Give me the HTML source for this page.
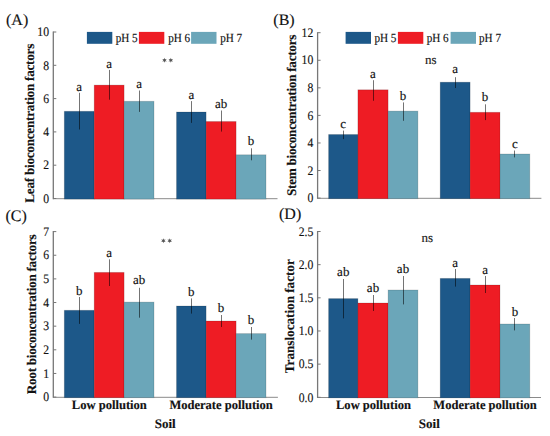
<!DOCTYPE html>
<html><head><meta charset="utf-8"><style>
html,body{margin:0;padding:0;background:#fff;}
svg{display:block;font-family:"Liberation Serif",serif;text-rendering:geometricPrecision;}
text{stroke:#111;stroke-width:0.15px;}
</style></head><body>
<svg width="550" height="436" viewBox="0 0 550 436">
<rect width="550" height="436" fill="#fff"/>
<line x1="53.3" y1="198.7" x2="277.5" y2="198.7" stroke="#8a8a8a" stroke-width="1"/>
<rect x="64.3" y="111.3" width="29.90" height="87.80" fill="#1d5889" stroke="#000" stroke-opacity="0.16" stroke-width="0.9"/>
<rect x="94.2" y="85.1" width="29.90" height="114.00" fill="#ee1c24" stroke="#000" stroke-opacity="0.16" stroke-width="0.9"/>
<rect x="124.1" y="101.3" width="29.90" height="97.80" fill="#6ba6b9" stroke="#000" stroke-opacity="0.16" stroke-width="0.9"/>
<rect x="176.5" y="112.0" width="29.60" height="87.10" fill="#1d5889" stroke="#000" stroke-opacity="0.16" stroke-width="0.9"/>
<rect x="206.1" y="121.5" width="30.00" height="77.60" fill="#ee1c24" stroke="#000" stroke-opacity="0.16" stroke-width="0.9"/>
<rect x="236.1" y="154.8" width="29.90" height="44.30" fill="#6ba6b9" stroke="#000" stroke-opacity="0.16" stroke-width="0.9"/>
<line x1="79.5" y1="92.8" x2="79.5" y2="129.5" stroke="#000" stroke-width="0.55"/>
<text x="79.25" y="91.0" font-size="13" text-anchor="middle" font-weight="normal" fill="#111" >a</text>
<line x1="109.5" y1="69.9" x2="109.5" y2="99.7" stroke="#000" stroke-width="0.55"/>
<text x="109.15" y="67.6" font-size="13" text-anchor="middle" font-weight="normal" fill="#111" >a</text>
<line x1="139.5" y1="90.5" x2="139.5" y2="111.9" stroke="#000" stroke-width="0.55"/>
<text x="139.05" y="88.3" font-size="13" text-anchor="middle" font-weight="normal" fill="#111" >a</text>
<line x1="191.5" y1="101.1" x2="191.5" y2="122.9" stroke="#000" stroke-width="0.55"/>
<text x="191.3" y="98.9" font-size="13" text-anchor="middle" font-weight="normal" fill="#111" >a</text>
<line x1="221.5" y1="110.5" x2="221.5" y2="131.6" stroke="#000" stroke-width="0.55"/>
<text x="221.1" y="107.6" font-size="13" text-anchor="middle" font-weight="normal" fill="#111" >ab</text>
<line x1="251.5" y1="148.3" x2="251.5" y2="160.3" stroke="#000" stroke-width="0.55"/>
<text x="251.05" y="144.7" font-size="13" text-anchor="middle" font-weight="normal" fill="#111" >b</text>
<line x1="53.3" y1="31.5" x2="53.3" y2="199.2" stroke="#777777" stroke-width="1.3"/>
<line x1="53.3" y1="198.50" x2="56.30" y2="198.50" stroke="#777777" stroke-width="1"/>
<text transform="translate(49.00,202.70) scale(0.9,1)" font-size="13" text-anchor="end" fill="#111">0</text>
<line x1="53.3" y1="165.20" x2="56.30" y2="165.20" stroke="#777777" stroke-width="1"/>
<text transform="translate(49.00,169.40) scale(0.9,1)" font-size="13" text-anchor="end" fill="#111">2</text>
<line x1="53.3" y1="131.90" x2="56.30" y2="131.90" stroke="#777777" stroke-width="1"/>
<text transform="translate(49.00,136.10) scale(0.9,1)" font-size="13" text-anchor="end" fill="#111">4</text>
<line x1="53.3" y1="98.60" x2="56.30" y2="98.60" stroke="#777777" stroke-width="1"/>
<text transform="translate(49.00,102.80) scale(0.9,1)" font-size="13" text-anchor="end" fill="#111">6</text>
<line x1="53.3" y1="65.30" x2="56.30" y2="65.30" stroke="#777777" stroke-width="1"/>
<text transform="translate(49.00,69.50) scale(0.9,1)" font-size="13" text-anchor="end" fill="#111">8</text>
<line x1="53.3" y1="32.00" x2="56.30" y2="32.00" stroke="#777777" stroke-width="1"/>
<text transform="translate(49.00,36.20) scale(0.9,1)" font-size="13" text-anchor="end" fill="#111">10</text>
<text transform="translate(34.4,123.2) rotate(-90)" font-size="13.2" font-weight="bold" text-anchor="middle" fill="#111" textLength="159.0" lengthAdjust="spacing">Leaf bioconcentration factors</text>
<rect x="86.9" y="31.9" width="25.4" height="11.9" fill="#1d5889"/>
<text x="115.7" y="41.8" font-size="12.4" text-anchor="start" font-weight="normal" fill="#111" textLength="22" lengthAdjust="spacingAndGlyphs">pH 5</text>
<rect x="138.9" y="31.9" width="25.4" height="11.9" fill="#ee1c24"/>
<text x="168.2" y="41.8" font-size="12.4" text-anchor="start" font-weight="normal" fill="#111" textLength="22" lengthAdjust="spacingAndGlyphs">pH 6</text>
<rect x="191.1" y="31.9" width="25.4" height="11.9" fill="#6ba6b9"/>
<text x="220.2" y="41.8" font-size="12.4" text-anchor="start" font-weight="normal" fill="#111" textLength="22" lengthAdjust="spacingAndGlyphs">pH 7</text>
<polygon points="164.50,57.65 163.95,59.30 162.25,58.95 163.40,60.25 162.25,61.55 163.95,61.20 164.50,62.85 165.05,61.20 166.75,61.55 165.60,60.25 166.75,58.95 165.05,59.30" fill="#555"/>
<polygon points="170.80,57.65 170.25,59.30 168.55,58.95 169.70,60.25 168.55,61.55 170.25,61.20 170.80,62.85 171.35,61.20 173.05,61.55 171.90,60.25 173.05,58.95 171.35,59.30" fill="#555"/>
<line x1="317.6" y1="198.3" x2="541.4" y2="198.3" stroke="#8a8a8a" stroke-width="1"/>
<rect x="328.6" y="134.5" width="29.30" height="64.20" fill="#1d5889" stroke="#000" stroke-opacity="0.16" stroke-width="0.9"/>
<rect x="357.9" y="89.8" width="30.20" height="108.90" fill="#ee1c24" stroke="#000" stroke-opacity="0.16" stroke-width="0.9"/>
<rect x="388.1" y="111.1" width="29.80" height="87.60" fill="#6ba6b9" stroke="#000" stroke-opacity="0.16" stroke-width="0.9"/>
<rect x="440.2" y="82.2" width="29.90" height="116.50" fill="#1d5889" stroke="#000" stroke-opacity="0.16" stroke-width="0.9"/>
<rect x="470.1" y="112.3" width="29.90" height="86.40" fill="#ee1c24" stroke="#000" stroke-opacity="0.16" stroke-width="0.9"/>
<rect x="500.0" y="154.0" width="29.80" height="44.70" fill="#6ba6b9" stroke="#000" stroke-opacity="0.16" stroke-width="0.9"/>
<line x1="343.5" y1="130.6" x2="343.5" y2="139.1" stroke="#000" stroke-width="0.55"/>
<text x="343.25" y="128.1" font-size="13" text-anchor="middle" font-weight="normal" fill="#111" >c</text>
<line x1="373.5" y1="80.2" x2="373.5" y2="100.8" stroke="#000" stroke-width="0.55"/>
<text x="373.0" y="77.9" font-size="13" text-anchor="middle" font-weight="normal" fill="#111" >a</text>
<line x1="403.5" y1="102.4" x2="403.5" y2="120.8" stroke="#000" stroke-width="0.55"/>
<text x="403.0" y="100.1" font-size="13" text-anchor="middle" font-weight="normal" fill="#111" >b</text>
<line x1="455.5" y1="77.2" x2="455.5" y2="88.0" stroke="#000" stroke-width="0.55"/>
<text x="455.15" y="73.3" font-size="13" text-anchor="middle" font-weight="normal" fill="#111" >a</text>
<line x1="485.5" y1="104.3" x2="485.5" y2="120.1" stroke="#000" stroke-width="0.55"/>
<text x="485.05" y="101.3" font-size="13" text-anchor="middle" font-weight="normal" fill="#111" >b</text>
<line x1="514.5" y1="150.5" x2="514.5" y2="157.4" stroke="#000" stroke-width="0.55"/>
<text x="514.9" y="147.5" font-size="13" text-anchor="middle" font-weight="normal" fill="#111" >c</text>
<line x1="317.6" y1="32.2" x2="317.6" y2="198.8" stroke="#777777" stroke-width="1.3"/>
<line x1="317.6" y1="198.10" x2="320.60" y2="198.10" stroke="#777777" stroke-width="1"/>
<text transform="translate(313.30,202.30) scale(0.9,1)" font-size="13" text-anchor="end" fill="#111">0</text>
<line x1="317.6" y1="170.53" x2="320.60" y2="170.53" stroke="#777777" stroke-width="1"/>
<text transform="translate(313.30,174.73) scale(0.9,1)" font-size="13" text-anchor="end" fill="#111">2</text>
<line x1="317.6" y1="142.97" x2="320.60" y2="142.97" stroke="#777777" stroke-width="1"/>
<text transform="translate(313.30,147.17) scale(0.9,1)" font-size="13" text-anchor="end" fill="#111">4</text>
<line x1="317.6" y1="115.40" x2="320.60" y2="115.40" stroke="#777777" stroke-width="1"/>
<text transform="translate(313.30,119.60) scale(0.9,1)" font-size="13" text-anchor="end" fill="#111">6</text>
<line x1="317.6" y1="87.83" x2="320.60" y2="87.83" stroke="#777777" stroke-width="1"/>
<text transform="translate(313.30,92.03) scale(0.9,1)" font-size="13" text-anchor="end" fill="#111">8</text>
<line x1="317.6" y1="60.27" x2="320.60" y2="60.27" stroke="#777777" stroke-width="1"/>
<text transform="translate(313.30,64.47) scale(0.9,1)" font-size="13" text-anchor="end" fill="#111">10</text>
<line x1="317.6" y1="32.70" x2="320.60" y2="32.70" stroke="#777777" stroke-width="1"/>
<text transform="translate(313.30,36.90) scale(0.9,1)" font-size="13" text-anchor="end" fill="#111">12</text>
<text transform="translate(295.5,115.3) rotate(-90)" font-size="13.2" font-weight="bold" text-anchor="middle" fill="#111" textLength="161.4" lengthAdjust="spacing">Stem bioconcentration factors</text>
<rect x="345.6" y="31.9" width="25.4" height="11.9" fill="#1d5889"/>
<text x="374.4" y="41.8" font-size="12.4" text-anchor="start" font-weight="normal" fill="#111" textLength="22" lengthAdjust="spacingAndGlyphs">pH 5</text>
<rect x="397.9" y="31.9" width="25.4" height="11.9" fill="#ee1c24"/>
<text x="426.7" y="41.8" font-size="12.4" text-anchor="start" font-weight="normal" fill="#111" textLength="22" lengthAdjust="spacingAndGlyphs">pH 6</text>
<rect x="450.6" y="31.9" width="25.4" height="11.9" fill="#6ba6b9"/>
<text x="479.0" y="41.8" font-size="12.4" text-anchor="start" font-weight="normal" fill="#111" textLength="22" lengthAdjust="spacingAndGlyphs">pH 7</text>
<text x="430.7" y="63.8" font-size="13" text-anchor="middle" font-weight="normal" fill="#222" >ns</text>
<line x1="53.3" y1="397.3" x2="277.9" y2="397.3" stroke="#8a8a8a" stroke-width="1"/>
<rect x="64.3" y="310.3" width="29.90" height="87.40" fill="#1d5889" stroke="#000" stroke-opacity="0.16" stroke-width="0.9"/>
<rect x="94.2" y="272.4" width="29.90" height="125.30" fill="#ee1c24" stroke="#000" stroke-opacity="0.16" stroke-width="0.9"/>
<rect x="124.1" y="302.1" width="29.90" height="95.60" fill="#6ba6b9" stroke="#000" stroke-opacity="0.16" stroke-width="0.9"/>
<rect x="176.5" y="306.0" width="29.60" height="91.70" fill="#1d5889" stroke="#000" stroke-opacity="0.16" stroke-width="0.9"/>
<rect x="206.1" y="321.0" width="30.00" height="76.70" fill="#ee1c24" stroke="#000" stroke-opacity="0.16" stroke-width="0.9"/>
<rect x="236.1" y="333.6" width="29.90" height="64.10" fill="#6ba6b9" stroke="#000" stroke-opacity="0.16" stroke-width="0.9"/>
<line x1="79.5" y1="297.0" x2="79.5" y2="323.9" stroke="#000" stroke-width="0.55"/>
<text x="79.25" y="294.7" font-size="13" text-anchor="middle" font-weight="normal" fill="#111" >b</text>
<line x1="109.5" y1="259.3" x2="109.5" y2="286.0" stroke="#000" stroke-width="0.55"/>
<text x="109.15" y="256.8" font-size="13" text-anchor="middle" font-weight="normal" fill="#111" >a</text>
<line x1="139.5" y1="287.8" x2="139.5" y2="317.7" stroke="#000" stroke-width="0.55"/>
<text x="139.05" y="284.4" font-size="13" text-anchor="middle" font-weight="normal" fill="#111" >ab</text>
<line x1="191.5" y1="298.4" x2="191.5" y2="313.6" stroke="#000" stroke-width="0.55"/>
<text x="191.3" y="295.6" font-size="13" text-anchor="middle" font-weight="normal" fill="#111" >b</text>
<line x1="221.5" y1="315.0" x2="221.5" y2="327.0" stroke="#000" stroke-width="0.55"/>
<text x="221.1" y="312.0" font-size="13" text-anchor="middle" font-weight="normal" fill="#111" >b</text>
<line x1="251.5" y1="327.0" x2="251.5" y2="339.6" stroke="#000" stroke-width="0.55"/>
<text x="251.05" y="324.4" font-size="13" text-anchor="middle" font-weight="normal" fill="#111" >b</text>
<line x1="53.3" y1="231.1" x2="53.3" y2="397.8" stroke="#777777" stroke-width="1.3"/>
<line x1="53.3" y1="397.10" x2="56.30" y2="397.10" stroke="#777777" stroke-width="1"/>
<text transform="translate(49.00,401.30) scale(0.9,1)" font-size="13" text-anchor="end" fill="#111">0</text>
<line x1="53.3" y1="373.46" x2="56.30" y2="373.46" stroke="#777777" stroke-width="1"/>
<text transform="translate(49.00,377.66) scale(0.9,1)" font-size="13" text-anchor="end" fill="#111">1</text>
<line x1="53.3" y1="349.81" x2="56.30" y2="349.81" stroke="#777777" stroke-width="1"/>
<text transform="translate(49.00,354.01) scale(0.9,1)" font-size="13" text-anchor="end" fill="#111">2</text>
<line x1="53.3" y1="326.17" x2="56.30" y2="326.17" stroke="#777777" stroke-width="1"/>
<text transform="translate(49.00,330.37) scale(0.9,1)" font-size="13" text-anchor="end" fill="#111">3</text>
<line x1="53.3" y1="302.53" x2="56.30" y2="302.53" stroke="#777777" stroke-width="1"/>
<text transform="translate(49.00,306.73) scale(0.9,1)" font-size="13" text-anchor="end" fill="#111">4</text>
<line x1="53.3" y1="278.89" x2="56.30" y2="278.89" stroke="#777777" stroke-width="1"/>
<text transform="translate(49.00,283.09) scale(0.9,1)" font-size="13" text-anchor="end" fill="#111">5</text>
<line x1="53.3" y1="255.24" x2="56.30" y2="255.24" stroke="#777777" stroke-width="1"/>
<text transform="translate(49.00,259.44) scale(0.9,1)" font-size="13" text-anchor="end" fill="#111">6</text>
<line x1="53.3" y1="231.60" x2="56.30" y2="231.60" stroke="#777777" stroke-width="1"/>
<text transform="translate(49.00,235.80) scale(0.9,1)" font-size="13" text-anchor="end" fill="#111">7</text>
<text transform="translate(36.1,314.3) rotate(-90)" font-size="13.2" font-weight="bold" text-anchor="middle" fill="#111" textLength="159.8" lengthAdjust="spacing">Root bioconcentration factors</text>
<polygon points="163.40,238.15 162.85,239.80 161.15,239.45 162.30,240.75 161.15,242.05 162.85,241.70 163.40,243.35 163.95,241.70 165.65,242.05 164.50,240.75 165.65,239.45 163.95,239.80" fill="#555"/>
<polygon points="169.70,238.15 169.15,239.80 167.45,239.45 168.60,240.75 167.45,242.05 169.15,241.70 169.70,243.35 170.25,241.70 171.95,242.05 170.80,240.75 171.95,239.45 170.25,239.80" fill="#555"/>
<line x1="317.6" y1="397.5" x2="541.0" y2="397.5" stroke="#8a8a8a" stroke-width="1"/>
<rect x="328.6" y="298.6" width="29.30" height="99.30" fill="#1d5889" stroke="#000" stroke-opacity="0.16" stroke-width="0.9"/>
<rect x="357.9" y="303.0" width="30.20" height="94.90" fill="#ee1c24" stroke="#000" stroke-opacity="0.16" stroke-width="0.9"/>
<rect x="388.1" y="290.0" width="29.80" height="107.90" fill="#6ba6b9" stroke="#000" stroke-opacity="0.16" stroke-width="0.9"/>
<rect x="440.2" y="278.4" width="29.90" height="119.50" fill="#1d5889" stroke="#000" stroke-opacity="0.16" stroke-width="0.9"/>
<rect x="470.1" y="285.0" width="29.90" height="112.90" fill="#ee1c24" stroke="#000" stroke-opacity="0.16" stroke-width="0.9"/>
<rect x="500.0" y="324.0" width="29.80" height="73.90" fill="#6ba6b9" stroke="#000" stroke-opacity="0.16" stroke-width="0.9"/>
<line x1="343.5" y1="279.0" x2="343.5" y2="318.4" stroke="#000" stroke-width="0.55"/>
<text x="343.25" y="275.6" font-size="13" text-anchor="middle" font-weight="normal" fill="#111" >ab</text>
<line x1="373.5" y1="295.0" x2="373.5" y2="311.0" stroke="#000" stroke-width="0.55"/>
<text x="373.0" y="292.0" font-size="13" text-anchor="middle" font-weight="normal" fill="#111" >ab</text>
<line x1="403.5" y1="276.0" x2="403.5" y2="304.4" stroke="#000" stroke-width="0.55"/>
<text x="403.0" y="273.0" font-size="13" text-anchor="middle" font-weight="normal" fill="#111" >ab</text>
<line x1="455.5" y1="269.0" x2="455.5" y2="286.6" stroke="#000" stroke-width="0.55"/>
<text x="455.15" y="266.6" font-size="13" text-anchor="middle" font-weight="normal" fill="#111" >a</text>
<line x1="485.5" y1="276.0" x2="485.5" y2="293.0" stroke="#000" stroke-width="0.55"/>
<text x="485.05" y="273.6" font-size="13" text-anchor="middle" font-weight="normal" fill="#111" >a</text>
<line x1="514.5" y1="318.0" x2="514.5" y2="330.4" stroke="#000" stroke-width="0.55"/>
<text x="514.9" y="315.6" font-size="13" text-anchor="middle" font-weight="normal" fill="#111" >b</text>
<line x1="317.6" y1="231.0" x2="317.6" y2="398.0" stroke="#777777" stroke-width="1.3"/>
<line x1="317.6" y1="397.30" x2="320.60" y2="397.30" stroke="#777777" stroke-width="1"/>
<text transform="translate(313.30,401.50) scale(0.9,1)" font-size="13" text-anchor="end" fill="#111">0.0</text>
<line x1="317.6" y1="364.14" x2="320.60" y2="364.14" stroke="#777777" stroke-width="1"/>
<text transform="translate(313.30,368.34) scale(0.9,1)" font-size="13" text-anchor="end" fill="#111">0.5</text>
<line x1="317.6" y1="330.98" x2="320.60" y2="330.98" stroke="#777777" stroke-width="1"/>
<text transform="translate(313.30,335.18) scale(0.9,1)" font-size="13" text-anchor="end" fill="#111">1.0</text>
<line x1="317.6" y1="297.82" x2="320.60" y2="297.82" stroke="#777777" stroke-width="1"/>
<text transform="translate(313.30,302.02) scale(0.9,1)" font-size="13" text-anchor="end" fill="#111">1.5</text>
<line x1="317.6" y1="264.66" x2="320.60" y2="264.66" stroke="#777777" stroke-width="1"/>
<text transform="translate(313.30,268.86) scale(0.9,1)" font-size="13" text-anchor="end" fill="#111">2.0</text>
<line x1="317.6" y1="231.50" x2="320.60" y2="231.50" stroke="#777777" stroke-width="1"/>
<text transform="translate(313.30,235.70) scale(0.9,1)" font-size="13" text-anchor="end" fill="#111">2.5</text>
<text transform="translate(293.8,316.2) rotate(-90)" font-size="13.2" font-weight="bold" text-anchor="middle" fill="#111" textLength="114.0" lengthAdjust="spacing">Translocation factor</text>
<text x="427.2" y="242.0" font-size="13" text-anchor="middle" font-weight="normal" fill="#222" >ns</text>
<text x="109.3" y="408.7" font-size="12.8" text-anchor="middle" font-weight="bold" fill="#111" textLength="75.1" lengthAdjust="spacingAndGlyphs">Low pollution</text>
<text x="221.1" y="408.7" font-size="12.8" text-anchor="middle" font-weight="bold" fill="#111" textLength="103.4" lengthAdjust="spacingAndGlyphs">Moderate pollution</text>
<text x="373.5" y="408.7" font-size="12.8" text-anchor="middle" font-weight="bold" fill="#111" textLength="75.0" lengthAdjust="spacingAndGlyphs">Low pollution</text>
<text x="485.0" y="408.7" font-size="12.8" text-anchor="middle" font-weight="bold" fill="#111" textLength="103.3" lengthAdjust="spacingAndGlyphs">Moderate pollution</text>
<text x="165.2" y="428.1" font-size="13" text-anchor="middle" font-weight="bold" fill="#111" >Soil</text>
<text x="429.3" y="428.0" font-size="13" text-anchor="middle" font-weight="bold" fill="#111" >Soil</text>
<text x="6.0" y="25.0" font-size="16" text-anchor="start" font-weight="normal" fill="#111" >(A)</text>
<text x="273.3" y="25.4" font-size="16" text-anchor="start" font-weight="normal" fill="#111" >(B)</text>
<text x="5.5" y="221.0" font-size="16" text-anchor="start" font-weight="normal" fill="#111" >(C)</text>
<text x="279.0" y="219.3" font-size="16" text-anchor="start" font-weight="normal" fill="#111" >(D)</text>
</svg>
</body></html>
